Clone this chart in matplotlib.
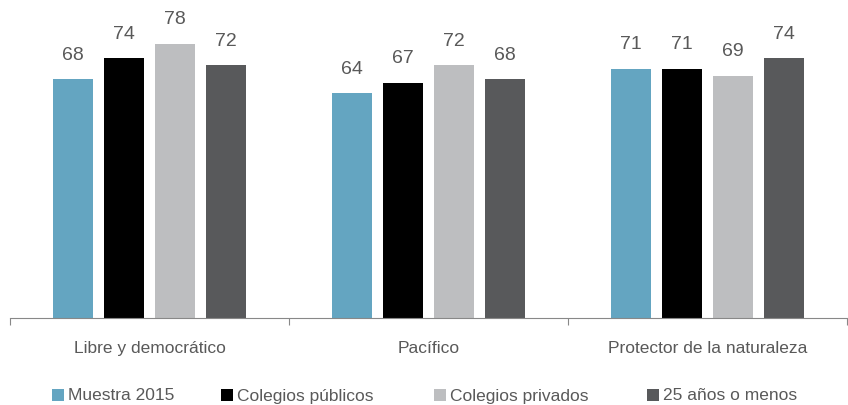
import matplotlib
matplotlib.use('Agg')
from matplotlib import pyplot as plt
from matplotlib.patches import Rectangle
import numpy as np

plt.rcParams['font.family'] = ['Liberation Sans', 'DejaVu Sans']

categorias = ['Libre y democrático', 'Pacífico', 'Protector de la naturaleza']
series = ['Muestra 2015', 'Colegios públicos', 'Colegios privados', '25 años o menos']
muestra = [68, 64, 71]
publicos = [74, 67, 71]
privados = [78, 72, 69]
jovenes = [72, 68, 74]
colores = ['#64a5c1', '#000000', '#bdbec0', '#58595b']

valores = [muestra, publicos, privados, jovenes]
texto = '#595959'

W, H = 848, 405
fig = plt.figure(figsize=(W / 100, H / 100), dpi=100)
ax = fig.add_axes([10 / W, 1 - 318 / H, 837 / W, 318 / H])

x = np.arange(len(categorias))
ancho = 0.143
paso = 0.183
for i, (vals, c) in enumerate(zip(valores, colores)):
    pos = x + (i - 1.5) * paso
    ax.bar(pos, vals, width=ancho, color=c)
    for p, v in zip(pos, vals):
        ax.text(p, v + 4.4, str(v), ha='center', va='bottom',
                fontsize=14, color=texto)

ax.set_xlim(-0.5, 2.5)
ax.set_ylim(0, 90.5)
ax.set_yticks([])
for s in ['top', 'right', 'left']:
    ax.spines[s].set_visible(False)
ax.spines['bottom'].set_color('#888888')
ax.set_xticks([-0.5, 0.5, 1.5, 2.5])
ax.set_xticklabels([])
ax.tick_params(axis='x', direction='out', length=5, color='#888888')
for xi, nombre in zip(x, categorias):
    ax.text(xi, -8.6, nombre, ha='center', va='center', fontsize=12.5,
            color=texto, clip_on=False)

# leyenda dibujada a mano: cuadrito + texto
ley_x = [52, 221, 434, 647]
for lx, c, s in zip(ley_x, colores, series):
    fig.add_artist(Rectangle((lx / W, 1 - 401 / H), 12 / W, 12 / H,
                             facecolor=c, edgecolor='none',
                             transform=fig.transFigure))
    fig.text((lx + 16) / W, 1 - 396 / H, s, ha='left', va='center',
             fontsize=12.5, color=texto)

fig.savefig('out.png', dpi=100)
